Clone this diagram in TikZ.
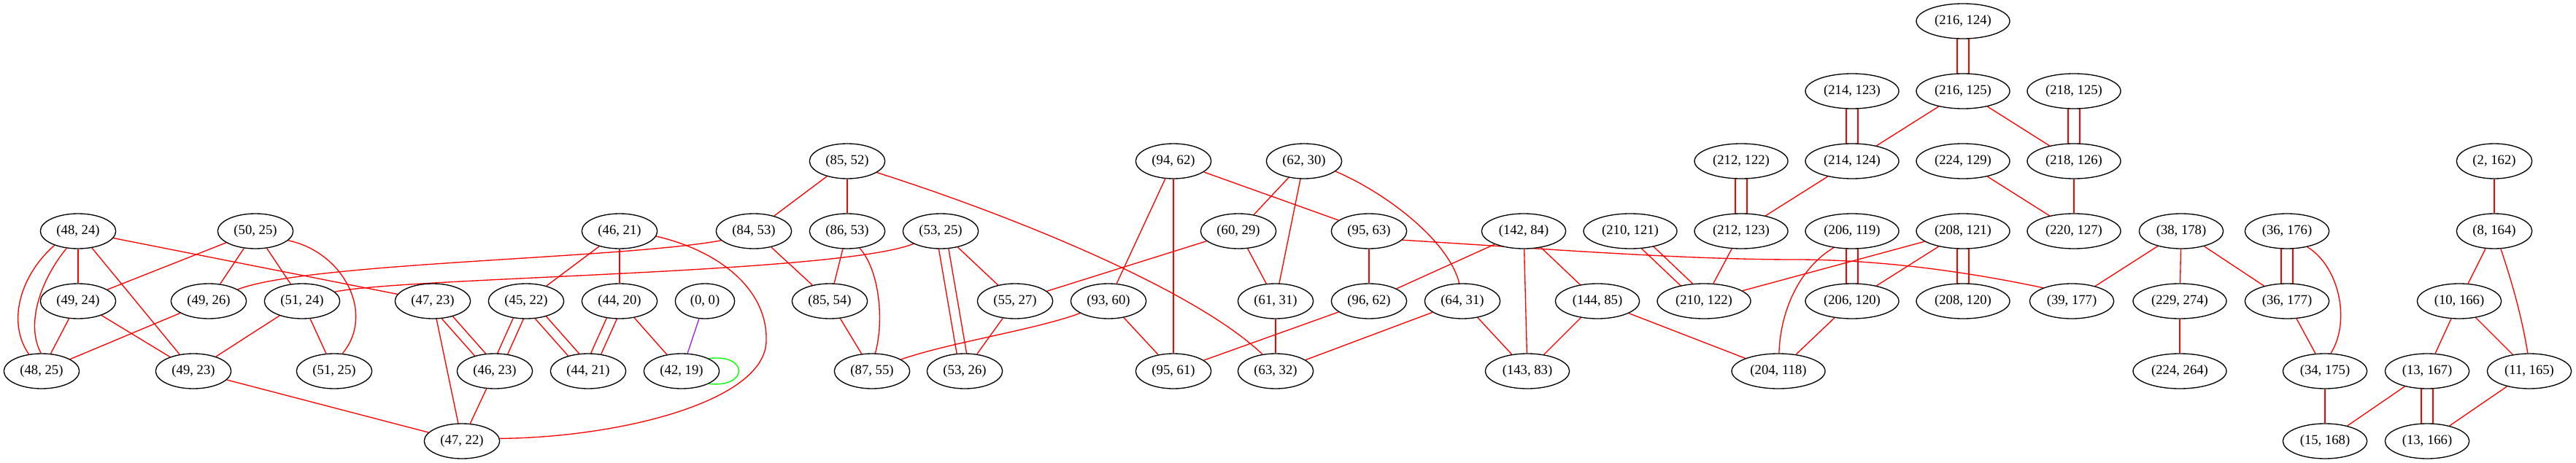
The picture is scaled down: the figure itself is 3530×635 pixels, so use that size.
\documentclass[tikz,border=0pt]{standalone}
\usepackage{fontspec}
\setmainfont{Liberation Serif}
\usetikzlibrary{shapes.geometric,calc}
\pgfdeclarelayer{bg}
\pgfsetlayers{bg,main}
\definecolor{gvred}{HTML}{FF0000}
\definecolor{gvgreen}{HTML}{00FF00}
\definecolor{gvpurple}{HTML}{A020F0}
\tikzset{
 vx/.style={ellipse, draw=black, fill=white, line width=1pt, inner sep=0pt, minimum height=36pt, font=\fontsize{14pt}{16pt}\selectfont},
 wa/.style={vx, minimum width=61pt},
 wb/.style={vx, minimum width=77.5pt},
 wc/.style={vx, minimum width=86.5pt},
 wd/.style={vx, minimum width=96pt},
 link/.style={draw=gvred, line width=1pt},
}
\newcommand{\dbl}[3]{%
 \draw[link] ($(#1)!#3!90:(#2)$) -- ($(#2)!#3!-90:(#1)$);
 \draw[link] ($(#1)!#3!-90:(#2)$) -- ($(#2)!#3!90:(#1)$);
}
\begin{document}
\begin{tikzpicture}[x=0.75pt,y=-0.75pt]
\useasboundingbox (0,0) rectangle (3530,635);
% row 1
\node[wd] (a216x124) at (2690,29) {(216, 124)};
% row 2
\node[wd] (a214x123) at (2538,125) {(214, 123)};
\node[wd] (a216x125) at (2690,125) {(216, 125)};
\node[wd] (a218x125) at (2842,125) {(218, 125)};
% row 3
\node[wb] (a85x52) at (1161,221) {(85, 52)};
\node[wb] (a94x62) at (1608,221) {(94, 62)};
\node[wb] (a62x30) at (1787,221) {(62, 30)};
\node[wd] (a212x122) at (2386,221) {(212, 122)};
\node[wd] (a214x124) at (2538,221) {(214, 124)};
\node[wd] (a224x129) at (2690,221) {(224, 129)};
\node[wd] (a218x126) at (2842,221) {(218, 126)};
\node[wb] (a2x162) at (3418,221) {(2, 162)};
% row 4
\node[wb] (a48x24) at (107,317) {(48, 24)};
\node[wb] (a50x25) at (350,317) {(50, 25)};
\node[wb] (a46x21) at (849,317) {(46, 21)};
\node[wb] (a84x53) at (1033,317) {(84, 53)};
\node[wb] (a86x53) at (1161,317) {(86, 53)};
\node[wb] (a53x25) at (1289,317) {(53, 25)};
\node[wb] (a60x29) at (1697,317) {(60, 29)};
\node[wb] (a95x63) at (1876,317) {(95, 63)};
\node[wc] (a142x84) at (2088,317) {(142, 84)};
\node[wd] (a210x121) at (2234,317) {(210, 121)};
\node[wd] (a212x123) at (2386,317) {(212, 123)};
\node[wd] (a206x119) at (2538,317) {(206, 119)};
\node[wd] (a208x121) at (2690,317) {(208, 121)};
\node[wd] (a220x127) at (2842,317) {(220, 127)};
\node[wc] (a38x178) at (2989,317) {(38, 178)};
\node[wc] (a36x176) at (3134,317) {(36, 176)};
\node[wb] (a8x164) at (3418,317) {(8, 164)};
% row 5
\node[wb] (a49x24) at (107,413) {(49, 24)};
\node[wb] (a49x26) at (286,413) {(49, 26)};
\node[wb] (a51x24) at (414,413) {(51, 24)};
\node[wb] (a47x23) at (593,413) {(47, 23)};
\node[wb] (a45x22) at (721,413) {(45, 22)};
\node[wb] (a44x20) at (849,413) {(44, 20)};
\node[wa] (a0x0) at (966,413) {(0, 0)};
\node[wb] (a85x54) at (1137,413) {(85, 54)};
\node[wb] (a55x27) at (1391,413) {(55, 27)};
\node[wb] (a93x60) at (1519,413) {(93, 60)};
\node[wb] (a61x31) at (1748,413) {(61, 31)};
\node[wb] (a96x62) at (1876,413) {(96, 62)};
\node[wb] (a64x31) at (2004,413) {(64, 31)};
\node[wc] (a144x85) at (2189,413) {(144, 85)};
\node[wd] (a210x122) at (2335,413) {(210, 122)};
\node[wd] (a206x120) at (2538,413) {(206, 120)};
\node[wd] (a208x120) at (2690,413) {(208, 120)};
\node[wc] (a39x177) at (2839,413) {(39, 177)};
\node[wd] (a229x274) at (2987,413) {(229, 274)};
\node[wc] (a36x177) at (3134,413) {(36, 177)};
\node[wc] (a10x166) at (3370,413) {(10, 166)};
% row 6
\node[wb] (a48x25) at (57,509) {(48, 25)};
\node[wb] (a49x23) at (265,509) {(49, 23)};
\node[wb] (a51x25) at (458,509) {(51, 25)};
\node[wb] (a46x23) at (678,509) {(46, 23)};
\node[wb] (a44x21) at (806,509) {(44, 21)};
\node[wb] (a42x19) at (934,509) {(42, 19)};
\node[wb] (a87x55) at (1195,509) {(87, 55)};
\node[wb] (a53x26) at (1322,509) {(53, 26)};
\node[wb] (a95x61) at (1608,509) {(95, 61)};
\node[wb] (a63x32) at (1748,509) {(63, 32)};
\node[wc] (a143x83) at (2093,509) {(143, 83)};
\node[wd] (a204x118) at (2437,509) {(204, 118)};
\node[wd] (a224x264) at (2987,509) {(224, 264)};
\node[wc] (a34x175) at (3186,509) {(34, 175)};
\node[wc] (a13x167) at (3326,509) {(13, 167)};
\node[wc] (a11x165) at (3466,509) {(11, 165)};
% row 7
\node[wb] (a47x22) at (633,605) {(47, 22)};
\node[wc] (a15x168) at (3186,605) {(15, 168)};
\node[wc] (a13x166) at (3326,605) {(13, 166)};

\begin{pgfonlayer}{bg}
% straight edges
\draw[link] (a48x24) -- (a49x24);
\draw[link] (a48x24) -- (a49x23);
\draw[link] (a48x24) -- (a47x23);
\draw[link] (a50x25) -- (a49x24);
\draw[link] (a50x25) -- (a49x26);
\draw[link] (a50x25) -- (a51x24);
\draw[link] (a49x24) -- (a48x25);
\draw[link] (a49x24) -- (a49x23);
\draw[link] (a49x26) -- (a48x25);
\draw[link] (a51x24) -- (a49x23);
\draw[link] (a51x24) -- (a51x25);
\draw[link] (a49x23) -- (a47x22);
\draw[link] (a47x23) -- (a47x22);
\draw[link] (a46x23) -- (a47x22);
\draw[link] (a46x21) -- (a45x22);
\draw[link] (a46x21) -- (a44x20);
\draw[link] (a44x20) -- (a42x19);
\draw[draw=gvpurple, line width=1pt] (a0x0) -- (a42x19);
\draw[link] (a85x52) -- (a84x53);
\draw[link] (a85x52) -- (a86x53);
\draw[link] (a84x53) -- (a85x54);
\draw[link] (a86x53) -- (a85x54);
\draw[link] (a85x54) -- (a87x55);
\draw[link] (a53x25) -- (a55x27);
\draw[link] (a55x27) -- (a53x26);
\draw[link] (a60x29) -- (a55x27);
\draw[link] (a94x62) -- (a93x60);
\draw[link] (a94x62) -- (a95x61);
\draw[link] (a94x62) -- (a95x63);
\draw[link] (a62x30) -- (a60x29);
\draw[link] (a62x30) -- (a61x31);
\draw[link] (a60x29) -- (a61x31);
\draw[link] (a93x60) -- (a95x61);
\draw[link] (a95x63) -- (a96x62);
\draw[link] (a96x62) -- (a95x61);
\draw[link] (a61x31) -- (a63x32);
\draw[link] (a64x31) -- (a63x32);
\draw[link] (a142x84) -- (a96x62);
\draw[link] (a64x31) -- (a143x83);
\draw[link] (a142x84) -- (a143x83);
\draw[link] (a142x84) -- (a144x85);
\draw[link] (a144x85) -- (a143x83);
\draw[link] (a144x85) -- (a204x118);
\draw[link] (a214x124) -- (a212x123);
\draw[link] (a212x123) -- (a210x122);
\draw[link] (a216x125) -- (a214x124);
\draw[link] (a216x125) -- (a218x126);
\draw[link] (a224x129) -- (a220x127);
\draw[link] (a218x126) -- (a220x127);
\draw[link] (a208x121) -- (a210x122);
\draw[link] (a208x121) -- (a206x120);
\draw[link] (a206x120) -- (a204x118);
\draw[link] (a38x178) -- (a39x177);
\draw[link] (a38x178) -- (a229x274);
\draw[link] (a38x178) -- (a36x177);
\draw[link] (a36x177) -- (a34x175);
\draw[link] (a229x274) -- (a224x264);
\draw[link] (a34x175) -- (a15x168);
\draw[link] (a13x167) -- (a15x168);
\draw[link] (a11x165) -- (a13x166);
\draw[link] (a2x162) -- (a8x164);
\draw[link] (a8x164) -- (a10x166);
\draw[link] (a10x166) -- (a13x167);
\draw[link] (a10x166) -- (a11x165);
% double edges
\dbl{a47x23}{a46x23}{5pt}
\dbl{a45x22}{a46x23}{5pt}
\dbl{a45x22}{a44x21}{5pt}
\dbl{a44x20}{a44x21}{5pt}
\dbl{a53x25}{a53x26}{5pt}
\dbl{a210x121}{a210x122}{5pt}
\dbl{a212x122}{a212x123}{6pt}
\dbl{a214x123}{a214x124}{6pt}
\dbl{a216x124}{a216x125}{6pt}
\dbl{a218x125}{a218x126}{6pt}
\dbl{a206x119}{a206x120}{6pt}
\dbl{a208x121}{a208x120}{6pt}
\dbl{a36x176}{a36x177}{6pt}
\dbl{a13x167}{a13x166}{6pt}
% curved edges
\draw[link] (a48x24.211) .. controls (30,375) and (8,440) .. (a48x25.127);
\draw[link] (a48x24.236) .. controls (55,385) and (35,445) .. (a48x25.92);
\draw[link] (a50x25.344) .. controls (470,345) and (515,430) .. (a51x25.65);
\draw[link] (a49x26.22) .. controls (420,360) and (850,355) .. (a84x53.196);
\draw[link] (a51x24.16) .. controls (560,380) and (1150,375) .. (a53x25.205);
\draw[link] (a46x21.352) .. controls (990,345) and (1052,400) .. (1050,467) .. controls (1050,550) and (850,600) .. (a47x22.4);
\draw[link] (a86x53.306) .. controls (1205,370) and (1212,440) .. (a87x55.80);
\draw[link] (a85x52.339) .. controls (1400,300) and (1640,400) .. (a63x32.128);
\draw[link] (a93x60.203) .. controls (1420,452) and (1300,470) .. (a87x55.22);
\draw[link] (a62x30.342) .. controls (1900,265) and (1985,330) .. (a64x31.100);
\draw[link] (a95x63.345) .. controls (2100,340) and (2300,356) .. (2460,356) .. controls (2600,356) and (2730,380) .. (a39x177.155);
\draw[link] (a206x119.222) .. controls (2470,365) and (2440,420) .. (a204x118.88);
\draw[link] (a36x176.322) .. controls (3205,365) and (3222,440) .. (a34x175.72);
\draw[link] (a8x164.290) .. controls (3440,380) and (3455,430) .. (a11x165.95);
% self loop
\draw[draw=gvgreen, line width=1pt] (a42x19.25) .. controls +(55,-7) and +(55,6) .. (a42x19.-25);
\end{pgfonlayer}
\end{tikzpicture}
\end{document}
